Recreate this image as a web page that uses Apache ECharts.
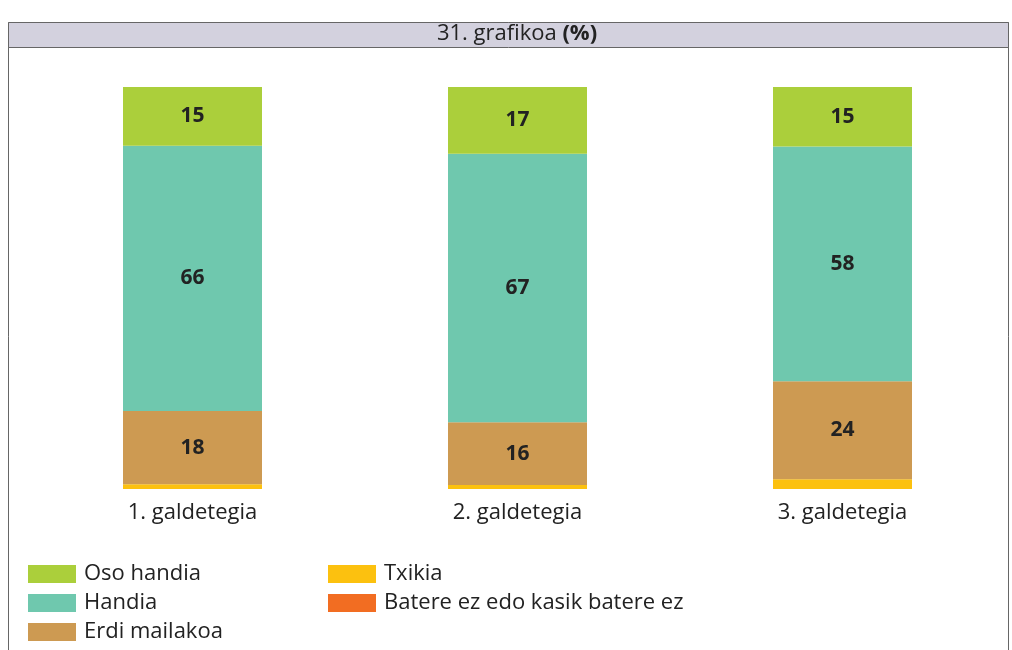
<!DOCTYPE html>
<html>
<head>
<meta charset="utf-8">
<script src="https://cdn.jsdelivr.net/npm/echarts@6/dist/echarts.min.js"></script>
<style>
  html, body { margin: 0; padding: 0; background: #fff; }
  #main { width: 1012px; height: 650px; }
</style>
</head>
<body>
<div id="main"></div>
<script>
var categories = ['1. galdetegia', '2. galdetegia', '3. galdetegia'];
var seriesNames = ['Oso handia', 'Handia', 'Erdi mailakoa', 'Txikia', 'Batere ez edo kasik batere ez'];
var osoHandia = [14.6, 16.6, 14.8];
var handia = [66.0, 66.8, 58.4];
var erdiMailakoa = [18.2, 15.6, 24.4];
var txikia = [1.2, 1.0, 2.4];
var batereEz = [0, 0, 0];
var colors = ['#abcf3b', '#6fc8ae', '#cd9a52', '#fcc10f', '#f26d22'];

var font = '"Open Sans", sans-serif';
var dom = document.getElementById('main');
var myChart = echarts.init(dom);

// stack from bottom: batere ez, txikia, erdi, handia, oso handia
var stackOrder = [
    [seriesNames[4], batereEz, colors[4], false],
    [seriesNames[3], txikia, colors[3], false],
    [seriesNames[2], erdiMailakoa, colors[2], true],
    [seriesNames[1], handia, colors[1], true],
    [seriesNames[0], osoHandia, colors[0], true]
];

var series = stackOrder.map(function (s) {
    return {
        name: s[0],
        type: 'bar',
        stack: 'total',
        barWidth: 139,
        data: s[1],
        itemStyle: {color: s[2]},
        label: {
            show: s[3],
            position: 'inside',
            fontFamily: font,
            fontWeight: 'bold',
            fontSize: 21,
            color: '#222',
            formatter: function (p) { return Math.round(p.value); }
        }
    };
});

// one legend per entry, two columns
var legendPos = [[23, 558], [23, 587], [23, 616], [323, 558], [323, 587]];
var legends = seriesNames.map(function (name, i) {
    return {
        left: legendPos[i][0],
        top: legendPos[i][1],
        itemWidth: 48,
        itemHeight: 18,
        icon: 'rect',
        data: [name],
        textStyle: {fontFamily: font, fontSize: 22, lineHeight: 20, color: '#222', padding: [0, 0, 0, 3]}
    };
});

var option = {
    animation: false,
    graphic: [
        {
            type: 'rect',
            shape: {x: 8.5, y: 22.5, width: 1000, height: 700},
            style: {fill: 'none', stroke: '#666', lineWidth: 1}
        },
        {
            type: 'rect',
            shape: {x: 8.5, y: 22.5, width: 1000, height: 25},
            style: {fill: '#d3d1de', stroke: '#666', lineWidth: 1}
        },
        {
            type: 'text',
            x: 517,
            y: 34,
            style: {
                text: '{a|31. grafikoa }{b|(%)}',
                align: 'center',
                verticalAlign: 'middle',
                rich: {
                    a: {fontFamily: font, fontSize: 22, fill: '#222'},
                    b: {fontFamily: font, fontSize: 22, fontWeight: 'bold', fill: '#222'}
                }
            }
        }
    ],
    grid: {left: 30, right: 7, top: 87, bottom: 161},
    xAxis: {
        type: 'category',
        data: categories,
        axisLine: {show: false},
        axisTick: {show: false},
        axisLabel: {fontFamily: font, fontSize: 22, color: '#222', margin: 13}
    },
    yAxis: {
        type: 'value',
        min: 0,
        max: 100,
        show: false
    },
    legend: legends,
    series: series
};
myChart.setOption(option);
</script>
</body>
</html>
